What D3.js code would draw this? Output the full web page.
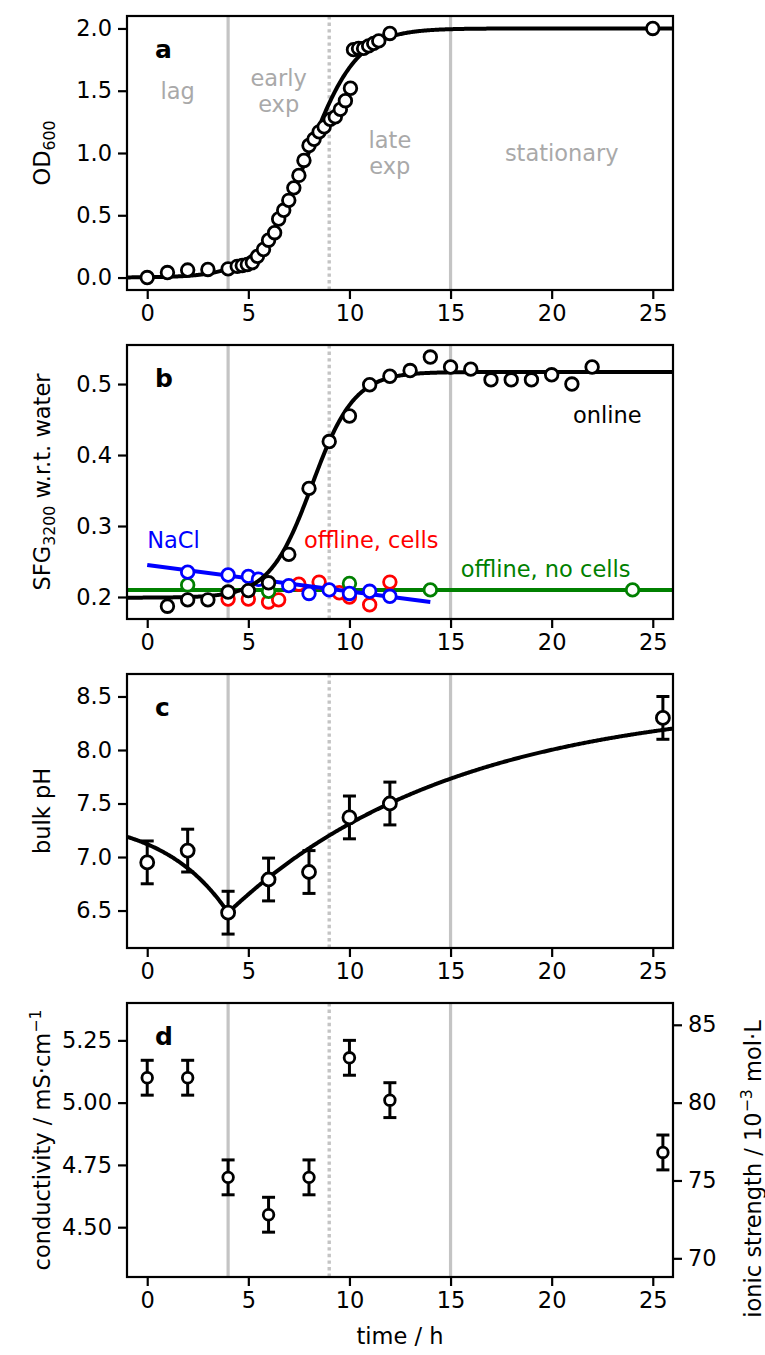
<!DOCTYPE html>
<html>
<head>
<meta charset="utf-8">
<script src="https://cdn.jsdelivr.net/npm/d3@7"></script>
<style>
  body { margin: 0; background: #fff; }
  text { font-family: "DejaVu Sans", sans-serif; }
</style>
</head>
<body>
<svg id="fig" width="765" height="1355"></svg>
<script>
// ---- growth phase markers (h) ----
const phaseSolid = [4, 15];
const phaseDotted = [9];

// ---- a: optical density ----
const odTime  = [0, 1, 2, 3, 4, 4.45, 4.7, 4.95, 5.2, 5.45, 5.75, 6.0, 6.3, 6.5, 6.75, 7.0, 7.25, 7.5, 7.75, 8.0,
                 8.25, 8.5, 8.75, 9.05, 9.3, 9.55, 9.8, 10.05, 10.2, 10.45, 10.7, 10.95, 11.2, 11.45, 12.0, 25];
const odValue = [0.00, 0.04, 0.06, 0.065, 0.07, 0.09, 0.097, 0.105, 0.12, 0.17, 0.225, 0.30, 0.36, 0.47, 0.54, 0.62, 0.72, 0.82, 0.94, 1.06,
                 1.11, 1.17, 1.21, 1.27, 1.29, 1.35, 1.42, 1.52, 1.83, 1.84, 1.84, 1.86, 1.88, 1.90, 1.96, 2.00];
// logistic fit: K / (1 + exp(-r (t - t0)))
const odFit = { K: 2.0, r: 0.83, t0: 7.98 };
const phaseLabels = [
  { lines: ["lag"], t: 1.5, v: 1.5 },
  { lines: ["early", "exp"], t: 6.5, v: 1.5 },
  { lines: ["late", "exp"], t: 12, v: 1.0 },
  { lines: ["stationary"], t: 20.5, v: 1.0 }
];

// ---- b: SFG intensity ----
const onlineTime  = [1, 2, 3, 4, 5, 6, 7, 8, 9, 10, 11, 12, 13, 14, 15, 16, 17, 18, 19, 20, 21, 22];
const onlineValue = [0.187, 0.196, 0.196, 0.207, 0.209, 0.220, 0.260, 0.353, 0.419, 0.455, 0.499, 0.511, 0.519, 0.538,
                     0.524, 0.521, 0.506, 0.506, 0.506, 0.513, 0.500, 0.524];
const onlineFit = { base: 0.199, amp: 0.318, r: 0.95, t0: 8.15 };
const cellsTime  = [4, 5, 6, 6.5, 7.5, 8.5, 9.5, 10, 11, 12];
const cellsValue = [0.197, 0.197, 0.193, 0.196, 0.218, 0.221, 0.206, 0.200, 0.189, 0.221];
const noCellsTime  = [2, 6, 10, 14, 24];
const noCellsValue = [0.217, 0.208, 0.219, 0.210, 0.210];
const noCellsLevel = 0.21;
const naclTime  = [2, 4, 5, 5.5, 7, 8, 9, 10, 11, 12];
const naclValue = [0.235, 0.231, 0.229, 0.225, 0.216, 0.205, 0.210, 0.205, 0.208, 0.201];
const naclLine  = { t: [0, 14], v: [0.245, 0.193] };

// ---- c: bulk pH ----
const phTime  = [0, 2, 4, 6, 8, 10, 12, 25.5];
const phValue = [6.95, 7.06, 6.48, 6.79, 6.86, 7.37, 7.50, 8.30];
const phErr   = [0.2, 0.2, 0.2, 0.2, 0.2, 0.2, 0.2, 0.2];
// piecewise saturating fit around the minimum at tMin
const phFit = { tMin: 4, pMin: 6.48, dropAmp: 0.9, dropK: 0.31, riseAmp: 2.0, riseK: 0.0894 };

// ---- d: conductivity ----
const condTime  = [0, 2, 4, 6, 8, 10, 12, 25.5];
const condValue = [5.10, 5.10, 4.70, 4.55, 4.70, 5.18, 5.01, 4.80];
const condErr   = [0.07, 0.07, 0.07, 0.07, 0.07, 0.07, 0.07, 0.07];
const ionicPerCond = 16; // 10^-3 mol/L per mS/cm

// ---- tick labels ----
const xTicks = [0, 5, 10, 15, 20, 25];
const odTicks = [0, 0.5, 1.0, 1.5, 2.0];
const sfgTicks = [0.2, 0.3, 0.4, 0.5];
const phTicks = [6.5, 7.0, 7.5, 8.0, 8.5];
const condTicks = [4.50, 4.75, 5.00, 5.25];
const ionicTicks = [70, 75, 80, 85];

// ---------------------------------------------------------------
const svg = d3.select("#fig");
const L = 127, R = 673, PH = 274;
const tops = [16, 345, 674, 1003];
const FS = 22.5;
const GRAY = "#c4c4c4";
const TICK = 9, PAD = 6;

const x = d3.scaleLinear().domain([-1, 26]).range([L, R]);

function styleAxis(a) {
  a.select(".domain").remove();
  a.selectAll(".tick line").attr("stroke", "#000").attr("stroke-width", 2.2);
  a.selectAll(".tick text").attr("font-size", FS).attr("fill", "#000")
    .attr("font-family", "DejaVu Sans, sans-serif");
}

function makePanel(i, domain, ticks, fmt, letter) {
  const top = tops[i], bot = top + PH;
  const y = d3.scaleLinear().domain(domain).range([bot, top]);
  const g = svg.append("g");
  const clipId = "clip" + i;
  svg.append("clipPath").attr("id", clipId)
    .append("rect").attr("x", L).attr("y", top).attr("width", R - L).attr("height", PH);
  const plot = g.append("g").attr("clip-path", `url(#${clipId})`);

  // phase markers
  phaseSolid.forEach(t => plot.append("line")
    .attr("x1", x(t)).attr("x2", x(t)).attr("y1", top).attr("y2", bot)
    .attr("stroke", GRAY).attr("stroke-width", 3.2));
  phaseDotted.forEach(t => plot.append("line")
    .attr("x1", x(t)).attr("x2", x(t)).attr("y1", top).attr("y2", bot)
    .attr("stroke", GRAY).attr("stroke-width", 3.4).attr("stroke-dasharray", "3.4,3.2"));

  // axes
  styleAxis(g.append("g").attr("transform", `translate(0,${bot})`)
    .call(d3.axisBottom(x).tickValues(xTicks).tickSize(TICK).tickPadding(PAD).tickFormat(d3.format("d"))));
  styleAxis(g.append("g").attr("transform", `translate(${L},0)`)
    .call(d3.axisLeft(y).tickValues(ticks).tickSize(TICK).tickPadding(PAD).tickFormat(fmt)));

  g.append("text").attr("x", L + 28).attr("y", top + 42)
    .attr("font-size", 25).attr("font-weight", "bold").text(letter);

  return { g, plot, y, top, bot };
}

function frame(p) {
  p.g.append("rect").attr("x", L).attr("y", p.top).attr("width", R - L).attr("height", PH)
    .attr("fill", "none").attr("stroke", "#000").attr("stroke-width", 2.2);
}

function circles(p, ts, vs, color, r) {
  p.plot.append("g").selectAll("circle").data(ts).join("circle")
    .attr("cx", d => x(d)).attr("cy", (d, i) => p.y(vs[i])).attr("r", r || 6.3)
    .attr("fill", "#fff").attr("stroke", color).attr("stroke-width", 2.8);
}

function curve(p, f, color, t0, t1) {
  const ts = d3.range(t0, t1 + 1e-9, 0.05);
  p.plot.append("path").datum(ts)
    .attr("d", d3.line().x(d => x(d)).y(d => p.y(f(d))))
    .attr("fill", "none").attr("stroke", color).attr("stroke-width", 4);
}

function yLabel(parts, xPos, yPos) {
  const t = svg.append("text").attr("transform", `translate(${xPos},${yPos}) rotate(-90)`)
    .attr("text-anchor", "middle").attr("font-size", FS);
  parts.forEach(pt => {
    const s = t.append("tspan").text(pt.s);
    if (pt.sub) s.attr("font-size", FS * 0.7).attr("dy", 5);
    if (pt.sup) s.attr("font-size", FS * 0.7).attr("dy", -9);
    if (pt.reset) s.attr("dy", pt.reset);
  });
  return t;
}

// ---------------- panel a ----------------
const pa = makePanel(0, [-0.1, 2.1], odTicks, d3.format(".1f"), "a");
phaseLabels.forEach(lb => {
  const n = lb.lines.length;
  lb.lines.forEach((s, k) => {
    pa.g.append("text").attr("x", x(lb.t)).attr("y", pa.y(lb.v) + (k - (n - 1) / 2) * 26)
      .attr("text-anchor", "middle").attr("dominant-baseline", "central")
      .attr("font-size", FS).attr("fill", "#a9a9a9").text(s);
  });
});
curve(pa, t => odFit.K / (1 + Math.exp(-odFit.r * (t - odFit.t0))), "#000", -1, 26);
circles(pa, odTime, odValue, "#000");
frame(pa);
yLabel([{ s: "OD" }, { s: "600", sub: true }], 50, pa.top + PH / 2);

// ---------------- panel b ----------------
const pb = makePanel(1, [0.169, 0.555], sfgTicks, d3.format(".1f"), "b");
pb.plot.append("line").attr("x1", L).attr("x2", R)
  .attr("y1", pb.y(noCellsLevel)).attr("y2", pb.y(noCellsLevel))
  .attr("stroke", "green").attr("stroke-width", 4);
circles(pb, cellsTime, cellsValue, "red");
circles(pb, noCellsTime, noCellsValue, "green");
pb.plot.append("path").datum(naclLine.t.map((t, i) => [t, naclLine.v[i]]))
  .attr("d", d3.line().x(d => x(d[0])).y(d => pb.y(d[1])))
  .attr("stroke", "blue").attr("stroke-width", 4).attr("fill", "none");
circles(pb, naclTime, naclValue, "blue");
curve(pb, t => onlineFit.base + onlineFit.amp / (1 + Math.exp(-onlineFit.r * (t - onlineFit.t0))), "#000", -1, 26);
circles(pb, onlineTime, onlineValue, "#000");
[
  { s: "NaCl", t: 0, v: 0.28, c: "blue" },
  { s: "offline, cells", t: 7.75, v: 0.28, c: "red" },
  { s: "offline, no cells", t: 15.5, v: 0.239, c: "green" },
  { s: "online", t: 21.05, v: 0.457, c: "#000" }
].forEach(lb => pb.g.append("text").attr("x", x(lb.t)).attr("y", pb.y(lb.v))
  .attr("dominant-baseline", "central").attr("font-size", FS).attr("fill", lb.c).text(lb.s));
frame(pb);
yLabel([{ s: "SFG" }, { s: "3200", sub: true }, { s: " w.r.t. water", reset: -5 }], 50, pb.top + PH / 2);

// ---------------- panel c ----------------
const pc = makePanel(2, [6.15, 8.71], phTicks, d3.format(".1f"), "c");
curve(pc, t => t <= phFit.tMin
  ? phFit.pMin + phFit.dropAmp * (1 - Math.exp(-phFit.dropK * (phFit.tMin - t)))
  : phFit.pMin + phFit.riseAmp * (1 - Math.exp(-phFit.riseK * (t - phFit.tMin))), "#000", -1, 26);

function errorBars(p, ts, vs, es, cap) {
  const g = p.plot.append("g");
  ts.forEach((t, i) => {
    const cx = x(t), y0 = p.y(vs[i] - es[i]), y1 = p.y(vs[i] + es[i]);
    g.append("line").attr("x1", cx).attr("x2", cx).attr("y1", y0).attr("y2", y1)
      .attr("stroke", "#000").attr("stroke-width", 3);
    [y0, y1].forEach(yy => g.append("line").attr("x1", cx - cap).attr("x2", cx + cap)
      .attr("y1", yy).attr("y2", yy).attr("stroke", "#000").attr("stroke-width", 3));
  });
}
errorBars(pc, phTime, phValue, phErr, 6.5);
circles(pc, phTime, phValue, "#000", 6.5);
frame(pc);
yLabel([{ s: "bulk pH" }], 50, pc.top + PH / 2);

// ---------------- panel d ----------------
const pd = makePanel(3, [4.3, 5.4], condTicks, d3.format(".2f"), "d");
errorBars(pd, condTime, condValue, condErr, 6.5);
circles(pd, condTime, condValue, "#000", 5.3);
frame(pd);
const yIonic = d3.scaleLinear().domain(pd.y.domain().map(v => v * ionicPerCond)).range(pd.y.range());
styleAxis(pd.g.append("g").attr("transform", `translate(${R},0)`)
  .call(d3.axisRight(yIonic).tickValues(ionicTicks).tickSize(TICK).tickPadding(PAD)));
yLabel([{ s: "conductivity / mS·cm" }, { s: "−1", sup: true }], 50, pd.top + PH / 2);
yLabel([{ s: "ionic strength / 10" }, { s: "−3", sup: true }, { s: " mol·L", reset: 9 }], 761, pd.top + PH / 2 + 29);

svg.append("text").attr("x", (L + R) / 2).attr("y", 1344).attr("text-anchor", "middle")
  .attr("font-size", FS).text("time / h");
</script>
</body>
</html>
